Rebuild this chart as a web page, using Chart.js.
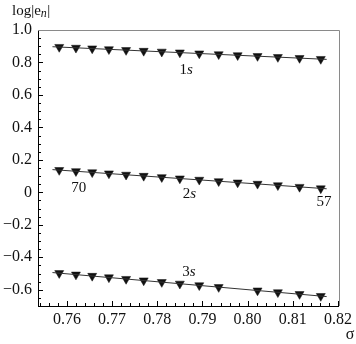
<!DOCTYPE html>
<html><head><meta charset="utf-8">
<script src="https://cdn.jsdelivr.net/npm/chart.js@4"></script>
<style>html,body{margin:0;padding:0;background:#fff}#wrap{width:356px;height:344px}</style>
</head><body><div id="wrap"><canvas id="c" width="356" height="344"></canvas></div>
<script>
// ---- data ----
const sigma   = [0.7583,0.7620,0.7656,0.7693,0.7731,0.7770,0.7810,0.7850,0.7893,0.7936,0.7978,0.8022,0.8067,0.8115,0.8162];
const e1s     = [0.895,0.890,0.886,0.881,0.876,0.871,0.866,0.861,0.855,0.850,0.844,0.839,0.833,0.827,0.821];
const e2s     = [0.137,0.130,0.123,0.116,0.108,0.101,0.093,0.085,0.077,0.068,0.060,0.052,0.043,0.033,0.024];
const sigma3s = [0.7583,0.7620,0.7656,0.7693,0.7731,0.7770,0.7810,0.7850,0.7893,0.7936,0.8022,0.8067,0.8115,0.8162];
const e3s     = [-0.498,-0.507,-0.515,-0.524,-0.534,-0.543,-0.553,-0.563,-0.573,-0.584,-0.605,-0.616,-0.627,-0.639];
const fitSigma = [0.7568,0.8175];
const fit1s = [0.897,0.819];
const fit2s = [0.140,0.022];
const fit3s = [-0.494,-0.642];
const xTicks = [0.76,0.77,0.78,0.79,0.80,0.81,0.82];
const xTickLabels = ['0.76','0.77','0.78','0.79','0.80','0.81','0.82'];
const yTicks = [-0.6,-0.4,-0.2,0,0.2,0.4,0.6,0.8,1.0];
const yTickLabels = ['\u22120.6','\u22120.4','\u22120.2','0','0.2','0.4','0.6','0.8','1.0'];
// text annotations (data coordinates)
const notes = [
  {x:0.7864, y:0.752, parts:[['1',false],['s',true]]},
  {x:0.7626, y:0.027, parts:[['70',false]]},
  {x:0.7871, y:-0.012, parts:[['2',false],['s',true]]},
  {x:0.8169, y:-0.062, parts:[['57',false]]},
  {x:0.7870, y:-0.494, parts:[['3',false],['s',true]]}
];

const pts = (xs, ys) => xs.map((v,i)=>({x:v, y:ys[i]}));
const FONT = 'Liberation Serif';

function drawParts(ctx, parts, cx, cy, size){
  let w = 0;
  const ws = parts.map(([t,it])=>{ctx.font=(it?'italic ':'')+size+'px "'+FONT+'"'; const m=ctx.measureText(t).width; w+=m; return m;});
  let x = cx - w/2;
  ctx.textBaseline='middle'; ctx.textAlign='left';
  parts.forEach(([t,it],i)=>{ctx.font=(it?'italic ':'')+size+'px "'+FONT+'"'; ctx.fillText(t,x,cy); x+=ws[i];});
}

const deco = {
  id:'deco',
  afterDraw(chart){
    const {ctx, chartArea:a, scales:{x,y}} = chart;
    ctx.save();
    // top/right frame
    ctx.strokeStyle='#8a8a8a'; ctx.lineWidth=1;
    ctx.beginPath();
    ctx.moveTo(Math.round(a.left), Math.round(a.top)+0.5);
    ctx.lineTo(Math.round(a.right)+0.5, Math.round(a.top)+0.5);
    ctx.lineTo(Math.round(a.right)+0.5, Math.round(a.bottom));
    ctx.stroke();
    // inward ticks
    ctx.strokeStyle='#000';
    ctx.beginPath();
    for(let m=377;m<=410;m++){
      const v=m*0.002; if(v<=x.min||v>=x.max-1e-9) continue;
      const px=Math.round(x.getPixelForValue(v))+0.5;
      const L = (m%5===0)?5:3;
      ctx.moveTo(px, a.bottom); ctx.lineTo(px, a.bottom-L);
    }
    for(let m=-14;m<=20;m++){
      const v=m*0.05; if(v<=y.min+1e-9||v>=y.max-1e-9) continue;
      const py=Math.round(y.getPixelForValue(v))+0.5;
      const L = (m%4===0)?5:3;
      ctx.moveTo(a.left, py); ctx.lineTo(a.left+L, py);
    }
    ctx.stroke();
    // annotations
    ctx.fillStyle='#111';
    notes.forEach(n=>drawParts(ctx, n.parts, x.getPixelForValue(n.x), y.getPixelForValue(n.y), 15));
    // axis titles
    drawParts(ctx, [['\u03c3',false]], 350, 335, 16);
    ctx.textBaseline='alphabetic'; ctx.textAlign='left';
    ctx.font='15px "'+FONT+'"';
    let tx=12; ctx.fillText('log|e',tx,15); tx+=ctx.measureText('log|e').width;
    ctx.font='italic 12px "'+FONT+'"'; ctx.fillText('n',tx,17); tx+=ctx.measureText('n').width+0.5;
    ctx.font='15px "'+FONT+'"'; ctx.fillText('|',tx,15);
    ctx.restore();
  }
};

const markerDs = (data) => ({type:'scatter', data, showLine:false, pointStyle:'triangle', rotation:180,
  pointRadius:5.2, pointHoverRadius:5.2, backgroundColor:'#111', borderColor:'#111', borderWidth:0.5});
const lineDs = (data) => ({type:'line', data, showLine:true, pointRadius:0, borderColor:'#333', borderWidth:1, fill:false});

new Chart(document.getElementById('c'), {
  type:'scatter',
  data:{datasets:[
    lineDs(pts(fitSigma,fit1s)), lineDs(pts(fitSigma,fit2s)), lineDs(pts(fitSigma,fit3s)),
    markerDs(pts(sigma,e1s)), markerDs(pts(sigma,e2s)), markerDs(pts(sigma3s,e3s))
  ]},
  options:{
    responsive:false, animation:false, devicePixelRatio:1,
    layout:{padding:{top:30,right:15.5,left:0,bottom:0}},
    plugins:{legend:{display:false}, tooltip:{enabled:false}},
    scales:{
      x:{type:'linear', min:0.7536, max:0.8202,
        afterBuildTicks(s){ s.ticks = xTicks.map(v=>({value:v})); },
        afterFit(s){ s.height = 38; },
        grid:{display:true, drawOnChartArea:false, drawTicks:false, color:'rgba(0,0,0,0)'},
        border:{display:true, color:'#000', width:1},
        ticks:{padding:4, color:'#111', maxRotation:0, autoSkip:false,
          font:{family:FONT, size:16},
          callback(v){ const i = xTicks.findIndex(t=>Math.abs(t-v)<1e-9); return i>=0 ? xTickLabels[i] : ''; }}
      },
      y:{type:'linear', min:-0.7, max:1.0,
        afterBuildTicks(s){ s.ticks = yTicks.map(v=>({value:v})); },
        afterFit(s){ s.width = 38; },
        grid:{display:true, drawOnChartArea:false, drawTicks:false, color:'rgba(0,0,0,0)'},
        border:{display:true, color:'#000', width:1},
        ticks:{padding:6, color:'#111', autoSkip:false,
          font:{family:FONT, size:16},
          callback(v){ const i = yTicks.findIndex(t=>Math.abs(t-v)<1e-9); return i>=0 ? yTickLabels[i] : ''; }}
      }
    }
  },
  plugins:[deco]
});
</script></body></html>
